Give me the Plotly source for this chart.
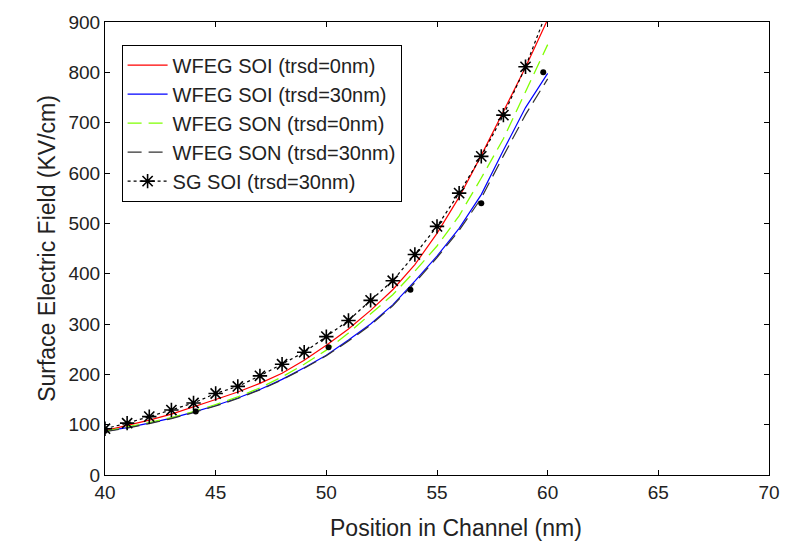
import plotly.graph_objects as go

# Position along the channel (nm)
position = [40, 41, 42, 43, 44, 45, 46, 47, 48, 49, 50,
            51, 52, 53, 54, 55, 56, 57, 58, 59, 60]

# Surface electric field (KV/cm) for each device
wfeg_soi_0 = [88, 98, 109, 121, 135, 150, 165, 182, 202, 228, 258,
              290, 327, 368, 418, 480, 552, 635, 722, 810, 905]
wfeg_soi_30 = [87, 94, 103, 113, 125, 138, 153, 170, 190, 213, 238,
               268, 300, 338, 385, 435, 490, 557, 645, 730, 798]
wfeg_son_0 = [87, 95, 104, 114, 126, 140, 155, 173, 195, 220, 248,
              282, 320, 358, 405, 455, 515, 590, 668, 760, 855]
wfeg_son_30 = [86, 93, 102, 112, 124, 137, 152, 169, 189, 212, 237,
               266, 298, 336, 382, 432, 486, 550, 634, 716, 787]
sg_soi_30 = [92, 103, 116, 129, 143, 162, 176, 197, 220, 244, 275,
             307, 347, 386, 438, 494, 560, 633, 715, 811, 925]

# Sampled points plotted as dots
dot_position = [40, 44.1, 50.1, 53.8, 57.0, 59.8]
dot_field = [88, 126, 254, 368, 540, 800]

x_ticks = [40, 45, 50, 55, 60, 65, 70]
y_ticks = [0, 100, 200, 300, 400, 500, 600, 700, 800, 900]

FONT = "Liberation Sans, Arial, sans-serif"
TEXT = "#222222"

fig = go.Figure()
fig.add_trace(go.Scatter(x=position, y=wfeg_soi_0, mode="lines",
                         name="WFEG SOI (trsd=0nm)",
                         line=dict(color="#ff0000", width=1.2)))
fig.add_trace(go.Scatter(x=position, y=wfeg_soi_30, mode="lines",
                         name="WFEG SOI (trsd=30nm)",
                         line=dict(color="#0000ff", width=1.2)))
fig.add_trace(go.Scatter(x=position, y=wfeg_son_0, mode="lines",
                         name="WFEG SON (trsd=0nm)",
                         line=dict(color="#7fff00", width=1.3, dash="14px,7px")))
fig.add_trace(go.Scatter(x=position, y=wfeg_son_30, mode="lines",
                         name="WFEG SON (trsd=30nm)",
                         line=dict(color="#333333", width=1.2, dash="14px,7px")))
fig.add_trace(go.Scatter(x=position, y=sg_soi_30, mode="lines+markers",
                         name="SG SOI (trsd=30nm)",
                         line=dict(color="#000000", width=1.2, dash="3px,3px"),
                         marker=dict(symbol="asterisk-open", size=12,
                                     color="#000000",
                                     line=dict(color="#000000", width=1.6))))
fig.add_trace(go.Scatter(x=dot_position, y=dot_field, mode="markers",
                         showlegend=False,
                         marker=dict(symbol="circle", size=6, color="#000000")))

axis_common = dict(
    showline=True, linecolor="#000000", linewidth=1, mirror="ticks",
    ticks="inside", ticklen=5, tickcolor="#000000", tickwidth=1,
    showgrid=False, zeroline=False,
    tickfont=dict(family=FONT, size=19, color=TEXT),
)

fig.update_xaxes(range=[40, 70], tickvals=x_ticks, **axis_common)
fig.update_yaxes(range=[0, 900], tickvals=y_ticks,
                 title=dict(text="Surface Electric Field (KV/cm)", standoff=6,
                            font=dict(family=FONT, size=23, color=TEXT)),
                 **axis_common)

# x-axis title, set slightly right of the plot centre
fig.add_annotation(text="Position in Channel (nm)", xref="paper", yref="paper",
                   x=0.528, y=-0.083, xanchor="center", yanchor="top",
                   showarrow=False, font=dict(family=FONT, size=23, color=TEXT))

fig.update_layout(
    width=792, height=549,
    margin=dict(l=105, r=12, t=18, b=74),
    paper_bgcolor="#ffffff", plot_bgcolor="#ffffff",
    legend=dict(x=0.025, y=0.95, xanchor="left", yanchor="top",
                bgcolor="#ffffff", bordercolor="#000000", borderwidth=1,
                font=dict(family=FONT, size=20, color=TEXT),
                tracegroupgap=0, itemwidth=40),
)

fig.write_html("out.html")
